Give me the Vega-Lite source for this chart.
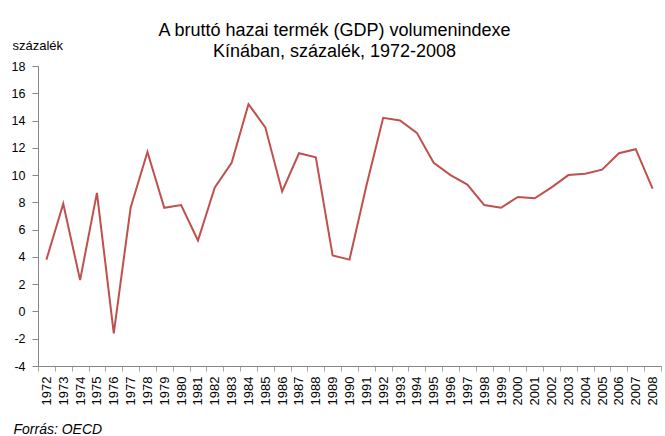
{
  "$schema": "https://vega.github.io/schema/vega-lite/v6.json",
  "autosize": "none",
  "width": 623,
  "height": 300,
  "padding": {"left": 38, "top": 66, "right": 4, "bottom": 70},
  "background": "white",
  "config": {"view": {"stroke": null}, "font": "Liberation Sans"},
  "title": {
    "text": ["A bruttó hazai termék (GDP) volumenindexe", "Kínában, százalék, 1972-2008"],
    "anchor": "middle",
    "frame": "group",
    "fontSize": 18,
    "fontWeight": "normal",
    "color": "black",
    "font": "Liberation Sans",
    "lineHeight": 21,
    "dx": -15,
    "offset": -22
  },
  "data": {"values": [
    {"year": "1972", "v": 3.8}, {"year": "1973", "v": 7.9}, {"year": "1974", "v": 2.3},
    {"year": "1975", "v": 8.7}, {"year": "1976", "v": -1.6}, {"year": "1977", "v": 7.6},
    {"year": "1978", "v": 11.7}, {"year": "1979", "v": 7.6}, {"year": "1980", "v": 7.8},
    {"year": "1981", "v": 5.2}, {"year": "1982", "v": 9.1}, {"year": "1983", "v": 10.9},
    {"year": "1984", "v": 15.2}, {"year": "1985", "v": 13.5}, {"year": "1986", "v": 8.8},
    {"year": "1987", "v": 11.6}, {"year": "1988", "v": 11.3}, {"year": "1989", "v": 4.1},
    {"year": "1990", "v": 3.8}, {"year": "1991", "v": 9.2}, {"year": "1992", "v": 14.2},
    {"year": "1993", "v": 14.0}, {"year": "1994", "v": 13.1}, {"year": "1995", "v": 10.9},
    {"year": "1996", "v": 10.0}, {"year": "1997", "v": 9.3}, {"year": "1998", "v": 7.8},
    {"year": "1999", "v": 7.6}, {"year": "2000", "v": 8.4}, {"year": "2001", "v": 8.3},
    {"year": "2002", "v": 9.1}, {"year": "2003", "v": 10.0}, {"year": "2004", "v": 10.1},
    {"year": "2005", "v": 10.4}, {"year": "2006", "v": 11.6}, {"year": "2007", "v": 11.9},
    {"year": "2008", "v": 9.0}
  ]},
  "mark": {"type": "line", "color": "#C0504D", "strokeWidth": 2},
  "encoding": {
    "x": {
      "field": "year", "type": "ordinal", "bandPosition": 0.5,
      "scale": {"type": "band", "paddingInner": 0, "paddingOuter": 0},
      "axis": {
        "title": "Forrás: OECD",
        "titleFont": "Liberation Sans",
        "titleFontStyle": "italic",
        "titleFontWeight": "normal",
        "titleFontSize": 14,
        "titleColor": "black",
        "titleAlign": "left",
        "titleAnchor": null,
        "titleBaseline": "middle",
        "titleX": -25,
        "titleY": 63,
        "labelAngle": -90,
        "labelAlign": "right",
        "labelBaseline": "middle",
        "labelFont": "Liberation Sans",
        "labelFontSize": 13,
        "labelColor": "black",
        "labelPadding": 5,
        "tickBand": "extent",
        "tickSize": 5,
        "tickColor": "#A6A6A6",
        "domainColor": "#868686",
        "domainWidth": 1,
        "grid": false
      }
    },
    "y": {
      "field": "v", "type": "quantitative",
      "scale": {"domain": [-4, 18], "nice": false, "zero": false},
      "axis": {
        "values": [-4, -2, 0, 2, 4, 6, 8, 10, 12, 14, 16, 18],
        "labelExpr": "datum.value + ''",
        "title": "százalék",
        "titleAngle": 0,
        "titleAlign": "left",
        "titleBaseline": "middle",
        "titleX": -26,
        "titleY": -21,
        "titleFontSize": 13,
        "titleFontWeight": "normal",
        "titleColor": "black",
        "labelFontSize": 12.5,
        "labelColor": "black",
        "labelPadding": 7,
        "tickSize": 6,
        "tickColor": "#868686",
        "domainColor": "#868686",
        "grid": false
      }
    }
  }
}
